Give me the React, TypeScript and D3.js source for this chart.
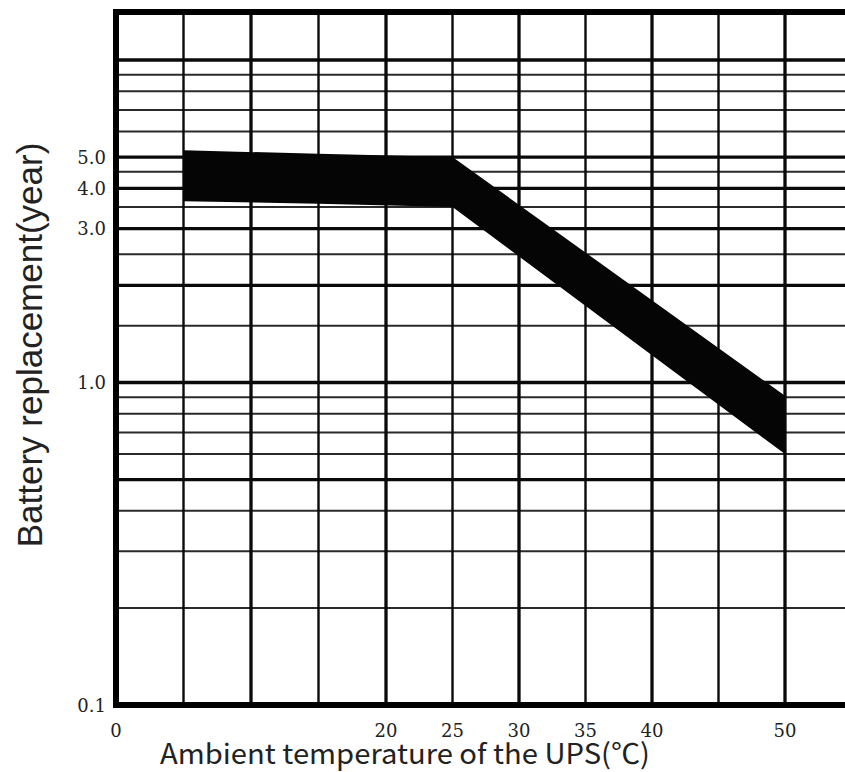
import React from 'react';
import * as d3 from 'd3';

// battery life band (years) vs ambient temperature (°C)
const temps = [5, 15, 25, 50];
const upperLife = [5.25, 5.12, 5.0, 0.91];
const lowerLife = [3.65, 3.58, 3.5, 0.6];

const xTickLabels = [0, 20, 25, 30, 35, 40, 50];
const yTickLabels = [5, 4, 3, 1, 0.1];

const xGridLines = [5, 10, 15, 20, 25, 30, 35, 40, 45, 50];
const xThick = [10, 20, 30, 40, 50];
const yGridLines = [0.2, 0.3, 0.4, 0.5, 0.6, 0.7, 0.8, 0.9, 1, 1.5, 2, 2.5, 3, 3.5, 4, 4.5, 5, 6, 7, 8, 9, 10];
const yThick = [0.5, 1, 2, 3, 4, 5, 10];

const width = 845;
const height = 772;

const App = () => {
    // the paper grid: 0..20 squeezed into 4 cells, then 5 °C per cell
    const x = d3.scaleLinear().domain([0, 20, 50]).range([116, 386, 785]);
    const y = d3.scaleLog().domain([0.1, 10]).range([705, 60]);

    const left = x(0);
    const right = x(55);
    const top = 12;
    const bottom = y(0.1);

    const band = d3
        .area<number>()
        .x((_, i) => x(temps[i]))
        .y0((_, i) => y(lowerLife[i]))
        .y1((_, i) => y(upperLife[i]));

    return (
        <svg
            width={width}
            height={height}
            style={{ position: 'absolute', left: 0, top: 0, background: '#fff' }}
        >
            <g>
                {yGridLines.map(v => (
                    <line
                        key={'h' + v}
                        x1={left}
                        x2={right}
                        y1={y(v)}
                        y2={y(v)}
                        stroke={yThick.includes(v) ? '#0a0a0a' : '#2a2a2a'}
                        strokeWidth={yThick.includes(v) ? 3.3 : 2}
                    />
                ))}
                {xGridLines.map(v => (
                    <line
                        key={'v' + v}
                        x1={x(v)}
                        x2={x(v)}
                        y1={top}
                        y2={bottom}
                        stroke="#0a0a0a"
                        strokeWidth={xThick.includes(v) ? 3.3 : 2.4}
                    />
                ))}
            </g>

            <path d={band(temps) || ''} fill="#050505" />

            {/* frame */}
            <path
                d={`M${right},${top}H${left}V${bottom}H${right}`}
                fill="none"
                stroke="#000"
                strokeWidth={6}
            />

            <g fontFamily="'DejaVu Serif', serif" fontSize={18} fill="#222">
                {yTickLabels.map(v => (
                    <text key={'yl' + v} x={106} y={y(v) + 6.5} textAnchor="end">
                        {v.toFixed(1)}
                    </text>
                ))}
                {xTickLabels.map(v => (
                    <text key={'xl' + v} x={x(v)} y={737} textAnchor="middle">
                        {v}
                    </text>
                ))}
            </g>

            <text
                transform="translate(42,345) rotate(-90)"
                textAnchor="middle"
                fontFamily="'Liberation Sans', Arial, sans-serif"
                fontSize={35}
                fill="#222"
            >
                Battery replacement(year)
            </text>
            <text
                x={160}
                y={764}
                textLength={490}
                lengthAdjust="spacingAndGlyphs"
                fontFamily="'Noto Sans CJK JP', sans-serif"
                fontSize={28}
                fill="#222"
            >
                Ambient temperature of the UPS(℃)
            </text>
        </svg>
    );
};

export default App;
